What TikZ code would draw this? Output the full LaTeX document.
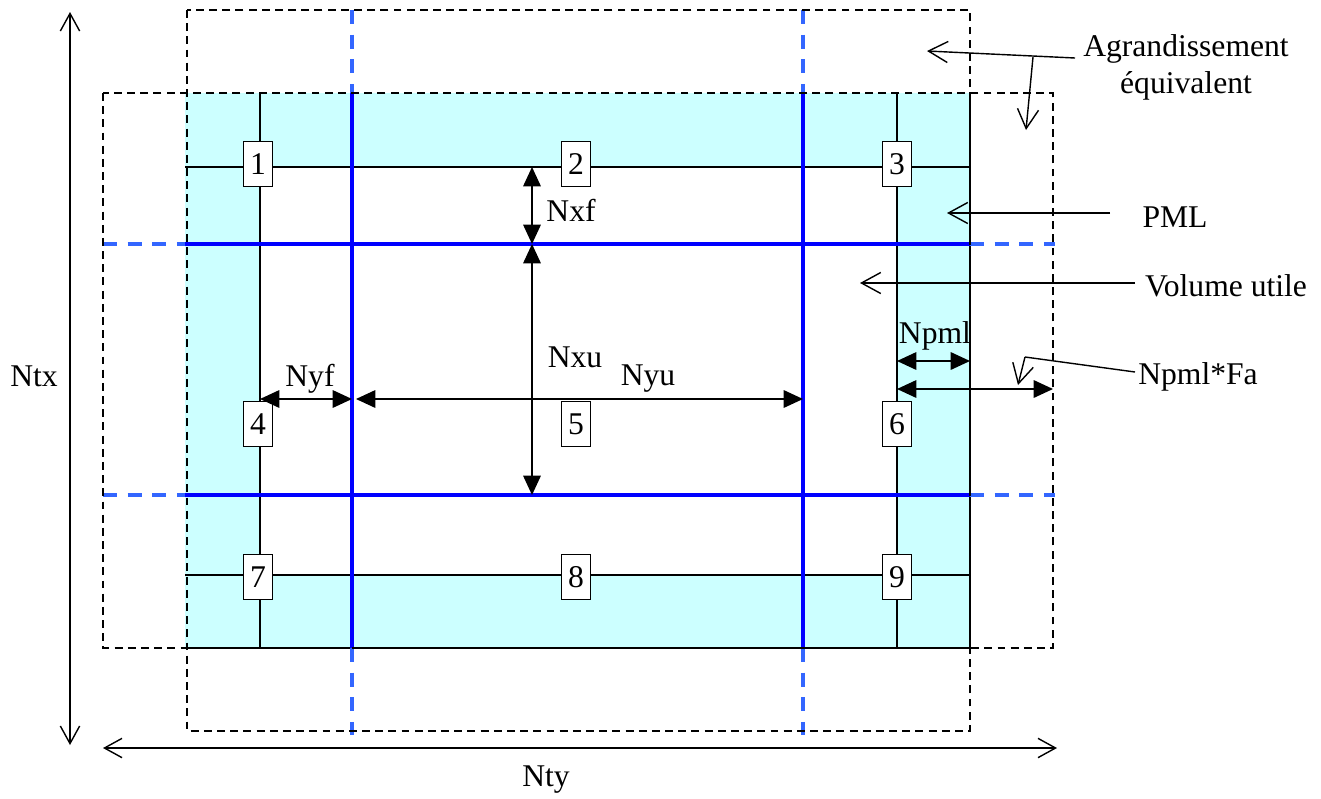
\documentclass[tikz,border=0pt]{standalone}
\usepackage{fontspec}
\setmainfont{Liberation Serif}
\usetikzlibrary{arrows.meta}
\definecolor{ink}{HTML}{000000}
\definecolor{pmlbg}{HTML}{CCFFFF}
\definecolor{gridblue}{HTML}{0000FF}
\definecolor{dashblue}{HTML}{3366FF}
\tikzset{
  gridline/.style={draw=ink, line width=0.6pt},
  bluesolid/.style={draw=gridblue, line width=2pt},
  bluedash/.style={draw=dashblue, line width=2pt, dash pattern=on 8pt off 6pt},
  frame/.style={draw=ink, line width=0.9pt, dash pattern=on 4.5pt off 3pt},
  numbox/.style={draw=ink, fill=white, line width=0.8pt, minimum width=5.8mm,
    minimum height=9mm, inner sep=0pt},
  dimarrow/.style={{Triangle[length=11pt,width=10pt]}-{Triangle[length=11pt,width=10pt]},
    line width=0.8pt, draw=ink},
  pointer/.style={-{Straight Barb[length=11pt,width=12pt]}, line width=0.8pt, draw=ink},
  spanarrow/.style={{Straight Barb[length=10pt,width=11pt]}-{Straight Barb[length=10pt,width=11pt]},
    line width=0.8pt, draw=ink}
}

\begin{document}
\begin{tikzpicture}[x=0.02cm, y=-0.02cm, font=\fontsize{18}{21}\selectfont]
\useasboundingbox (0,0) rectangle (1321,798);

% PML band and useful volume
\fill[pmlbg] (185,93) rectangle (970,648);
\fill[white] (260,167) rectangle (897,575);

% sub-domain limits
\draw[gridline] (260,93) -- (260,648);
\draw[gridline] (897,93) -- (897,648);
\draw[gridline] (185,167) -- (970,167);
\draw[gridline] (185,575) -- (970,575);
\draw[ink, line width=1pt] (185,648) -- (970,648) -- (970,93);

% useful volume limits
\foreach \x in {352,803} {
  \draw[bluesolid] (\x,93) -- (\x,648);
  \draw[bluedash] (\x,10) -- (\x,93);
  \draw[bluedash] (\x,648) -- (\x,735);
}
\foreach \y in {244,495} {
  \draw[bluesolid] (185,\y) -- (970,\y);
  \draw[bluedash] (103,\y) -- (185,\y);
  \draw[bluedash] (970,\y) -- (1055,\y);
}

% equivalent enlargement
\draw[frame] (187,10) rectangle (970,731);
\draw[frame] (103,93) rectangle (1053,648);

% numbered sub-domains
\node[numbox] (c1) at (258,164) {1};
\node[numbox] (c2) at (576,164) {2};
\node[numbox] (c3) at (897,164) {3};
\node[numbox] (c4) at (258,424) {4};
\node[numbox] (c5) at (576,424) {5};
\node[numbox] (c6) at (897,424) {6};
\node[numbox] (c7) at (258,577) {7};
\node[numbox] (c8) at (576,577) {8};
\node[numbox] (c9) at (897,577) {9};

% dimensions
\coordinate (xftop) at (532,167);
\coordinate (xfbot) at (532,244);
\coordinate (xubot) at (532,495);
\coordinate (yfleft) at (260,399);
\coordinate (yfright) at (352,399);
\coordinate (yuleft) at (356,399);
\coordinate (yuright) at (803,399);
\coordinate (pmlleft) at (897,361);
\coordinate (pmlright) at (970,361);
\coordinate (faleft) at (897,389);
\coordinate (faright) at (1053,389);

\draw[dimarrow] (xftop) -- (xfbot);
\draw[dimarrow] (xfbot) -- (xubot);
\draw[dimarrow] (yfleft) -- (yfright);
\draw[dimarrow] (yuleft) -- (yuright);
\draw[dimarrow] (pmlleft) -- (pmlright);
\draw[dimarrow] (faleft) -- (faright);

\node (nxf) at (571,210) {Nxf};
\node (nxu) at (575,357) {Nxu};
\node (nyf) at (310,379) {Nyf};
\node (nyu) at (648,379) {Nyu};
\node (npml) at (935,336) {Npml};

% total size
\coordinate (txtop) at (70,12);
\coordinate (txbot) at (70,745);
\coordinate (tyleft) at (103,748);
\coordinate (tyright) at (1057,748);
\draw[spanarrow] (txtop) -- (txbot);
\draw[spanarrow] (tyleft) -- (tyright);
\node (ntx) at (34,376) {Ntx};
\node (nty) at (546,780) {Nty};

% annotations
\node[align=center] (agr) at (1186,67) {Agrandissement\\équivalent};
\coordinate (agrstart) at (1075,58);
\coordinate (agrjoint) at (1033,57);
\coordinate (agrtipA) at (927,51);
\coordinate (agrtipB) at (1026,130);
\draw[pointer] (agrstart) -- (agrtipA);
\draw[pointer] (agrjoint) -- (agrtipB);

\node (pml) at (1175,217) {PML};
\coordinate (pmlstart) at (1110,213);
\coordinate (pmltip) at (947,213);
\draw[pointer] (pmlstart) -- (pmltip);

\node (vol) at (1226,286) {Volume utile};
\coordinate (volstart) at (1135,283);
\coordinate (voltip) at (860,283);
\draw[pointer] (volstart) -- (voltip);

\node (fa) at (1198,377) {Npml*Fa};
\coordinate (fastart) at (1135,372);
\coordinate (fabend) at (1025,357);
\coordinate (fatip) at (1018,385);
\draw[ink, line width=0.8pt] (fastart) -- (fabend);
\draw[pointer] (fabend) -- (fatip);

\end{tikzpicture}
\end{document}
